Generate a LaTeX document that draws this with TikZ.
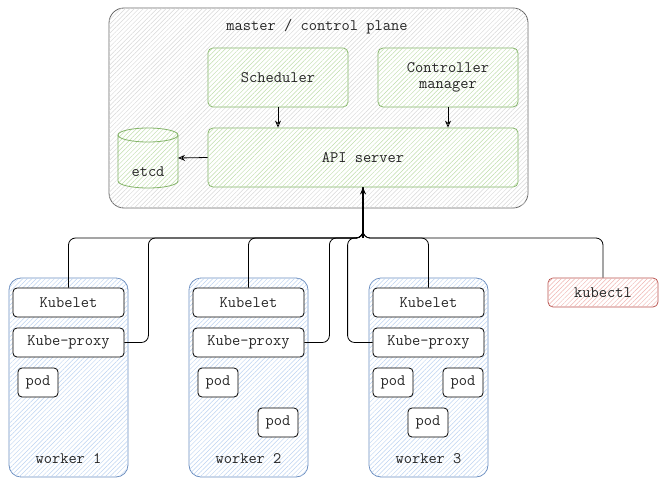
\documentclass[tikz,border=0pt]{standalone}
\usepackage{fontspec}
\usetikzlibrary{patterns.meta,arrows.meta}
\definecolor{mgray}{HTML}{666666}
\definecolor{ggreen}{HTML}{82B366}
\definecolor{gfill}{HTML}{BFDDAA}
\definecolor{bblue}{HTML}{6C8EBF}
\definecolor{bfill}{HTML}{BCD3F2}
\definecolor{rred}{HTML}{B85450}
\definecolor{rfill}{HTML}{F0B4B0}
\definecolor{grfill}{HTML}{D8D8D8}
\tikzset{
  every node/.style={font=\ttfamily\fontsize{16}{16}\selectfont, text=black!85, align=center},
  hatch/.style={fill=white, postaction={pattern={Lines[angle=45,distance=3.2pt,line width=0.45pt]}, pattern color=#1}},
  masterbox/.style={draw=mgray, line width=0.8pt, rounded corners=15pt, hatch=grfill, minimum width=419pt, minimum height=200pt},
  greenbox/.style={draw=ggreen, line width=0.8pt, rounded corners=5pt, hatch=gfill, minimum width=140pt, minimum height=59pt},
  workerbox/.style={draw=bblue, line width=0.8pt, rounded corners=12pt, hatch=bfill, minimum width=119pt, minimum height=199pt},
  blackbox/.style={draw=black, line width=0.8pt, rounded corners=4pt, fill=white, minimum width=111pt, minimum height=29pt},
  podbox/.style={draw=black, line width=0.8pt, rounded corners=4pt, fill=white, minimum width=40pt, minimum height=29pt},
  redbox/.style={draw=rred, line width=0.8pt, rounded corners=5pt, hatch=rfill, minimum width=110pt, minimum height=29pt},
  cylline/.style={draw=ggreen, line width=0.8pt},
  conn/.style={draw=black, line width=0.8pt, rounded corners=7pt},
  arr/.style={draw=black, line width=0.8pt, -{Stealth[open,length=7pt,width=6pt]}},
}
\begin{document}
\begin{tikzpicture}[x=1pt,y=-1pt]
\useasboundingbox (0,0) rectangle (667,487);
% master
\node[masterbox] (master) at (318.5,108) {};
\node (mtitle) at (317,27) {master / control plane};
\node[greenbox] (sched) at (278,77.5) {Scheduler};
\node[greenbox] (ctrl) at (448,77.5) {Controller\\[0pt]manager};
\node[greenbox, minimum width=310pt] (api) at (363,157.5) {API server};
% etcd cylinder
\path[hatch=gfill] (118,135) -- (118,181) arc[start angle=180,end angle=360,x radius=30pt,y radius=7pt]
  -- (178,135) arc[start angle=0,end angle=180,x radius=30pt,y radius=7pt] -- cycle;
\draw[cylline] (118,135) -- (118,181) arc[start angle=180,end angle=360,x radius=30pt,y radius=7pt]
  -- (178,135) arc[start angle=0,end angle=180,x radius=30pt,y radius=7pt];
\draw[cylline] (118,135) arc[start angle=180,end angle=360,x radius=30pt,y radius=7pt];
\node (etcdlbl) at (148,172) {etcd};
\coordinate (etcdR) at (178,158);
\draw[arr] (sched.south) -- (sched.south |- api.north);
\draw[arr] (ctrl.south) -- (ctrl.south |- api.north);
\draw[arr] (api.west) -- (etcdR);
% workers
\foreach \i/\x in {1/68.5,2/248.5,3/428.5}{
  \node[workerbox] (w\i) at (\x,377.5) {};
  \node[blackbox] (kl\i) at (\x,302.5) {Kubelet};
  \node[blackbox] (kp\i) at (\x,342.5) {Kube-proxy};
  \node (wl\i) at (\x,459) {worker \i};
}
\node[podbox] (p1a) at (38,382.5) {pod};
\node[podbox] (p2a) at (218,382.5) {pod};
\node[podbox] (p2b) at (278,422.5) {pod};
\node[podbox] (p3a) at (393,382.5) {pod};
\node[podbox] (p3b) at (463,382.5) {pod};
\node[podbox] (p3c) at (428,422.5) {pod};
\node[redbox] (kubectl) at (603,292.5) {kubectl};
% connectors
\coordinate (hub) at (363,238);
\draw[conn] (kl1.north) |- (hub) -- (api.south);
\draw[conn] (kp1.east) -- ++(24,0) |- (hub) -- (api.south);
\draw[conn] (kl2.north) |- (hub) -- (api.south);
\draw[conn] (kp2.east) -- ++(25,0) |- (hub) -- (api.south);
\draw[conn] (kp3.west) -- ++(-25,0) |- (hub) -- (api.south);
\draw[conn] (kl3.north) |- (hub) -- (api.south);
\draw[conn] (kubectl.north) |- (hub) -- (api.south);
\draw[arr, line width=1.2pt] (hub) -- (api.south);
\end{tikzpicture}
\end{document}
